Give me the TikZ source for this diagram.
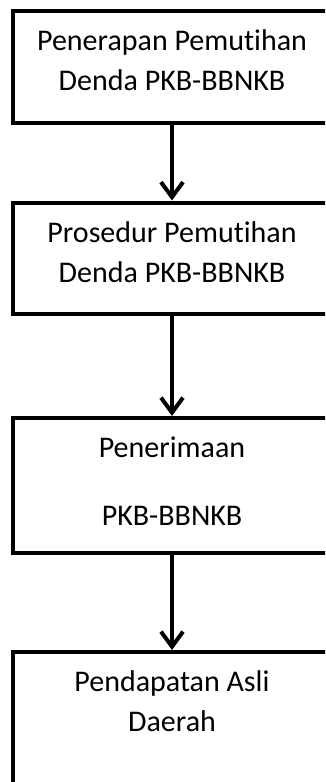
\documentclass[tikz,border=0pt]{standalone}
\usepackage{fontspec}
\setmainfont{Carlito}[Ligatures=NoCommon]
\usetikzlibrary{arrows.meta}
\begin{document}
\begin{tikzpicture}[x=1pt,y=-1pt,
  flowbox/.style={draw=black,line width=4pt,minimum width=318pt,inner sep=0pt,anchor=north},
  txt/.style={anchor=base,inner sep=0pt,font=\fontsize{30}{38}\selectfont},
  flowarrow/.style={line width=4pt,-{Straight Barb[length=15pt,width=22pt]}}]
\useasboundingbox (0,0) rectangle (325,782);
\clip (0,0) rectangle (325,782);
\fill[white] (0,0) rectangle (325,782);
\node[flowbox,minimum height=112.5pt] (b1) at (172,8.5) {};
\node[flowbox,minimum height=111.5pt] (b2) at (172,200.5) {};
\node[flowbox,minimum height=135pt] (b3) at (172,416) {};
\node[flowbox,minimum height=160pt] (b4) at (172,650) {};
\node[txt] (t1a) at (172,50) {Penerapan Pemutihan};
\node[txt] (t1b) at (172,90) {Denda PKB-BBNKB};
\node[txt] (t2a) at (172,242) {Prosedur Pemutihan};
\node[txt] (t2b) at (172,282) {Denda PKB-BBNKB};
\node[txt] (t3a) at (172,457) {Penerimaan};
\node[txt] (t3b) at (172,525) {PKB-BBNKB};
\node[txt] (t4a) at (172,691) {Pendapatan Asli};
\node[txt] (t4b) at (172,731) {Daerah};
\draw[flowarrow] (b1.south) -- (b2.north);
\draw[flowarrow] (b2.south) -- (b3.north);
\draw[flowarrow] ([yshift=4pt]b3.south) -- (b4.north);
\end{tikzpicture}
\end{document}
